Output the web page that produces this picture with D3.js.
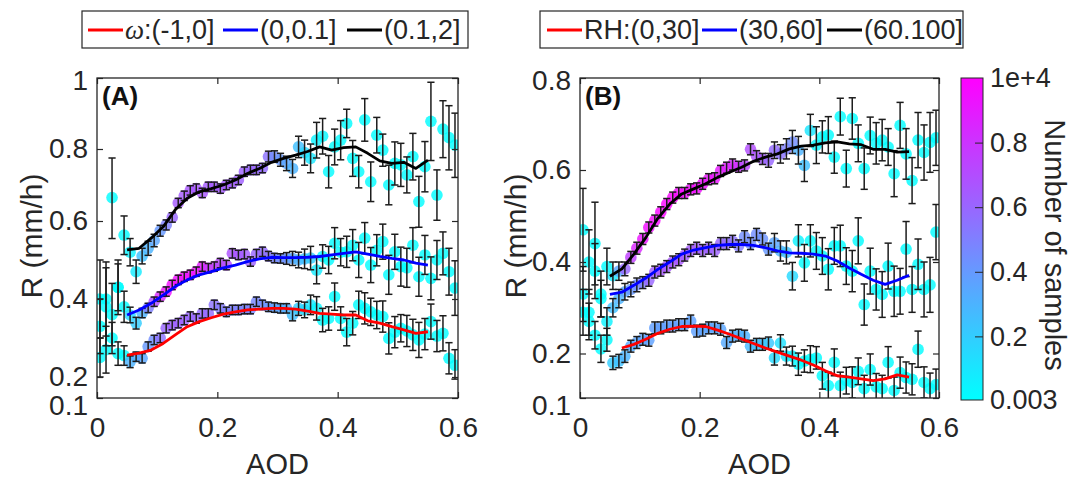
<!DOCTYPE html>
<html>
<head>
<meta charset="utf-8">
<script src="https://cdn.jsdelivr.net/npm/d3@7"></script>
<style>
  body { margin: 0; background: #fff; }
  svg text { font-family: "Liberation Sans", Arial, sans-serif; fill: #262626; }
</style>
</head>
<body>
<svg id="chart" width="1072" height="479"></svg>
<script>
// AOD bin centres shared by every scatter series
const aodBins = [0.005,0.015,0.025,0.035,0.045,0.055,0.065,0.075,0.085,0.095,
  0.105,0.115,0.125,0.135,0.145,0.155,0.165,0.175,0.185,0.195,
  0.205,0.215,0.225,0.235,0.245,0.255,0.265,0.275,0.285,0.295,
  0.305,0.315,0.325,0.335,0.345,0.355,0.365,0.375,0.385,0.395,
  0.405,0.415,0.425,0.435,0.445,0.455,0.465,0.475,0.485,0.495,
  0.505,0.515,0.525,0.535,0.545,0.555,0.565,0.575,0.585,0.595];
// x positions of the smoothed curves
const lineAod = [0.05,0.07,0.09,0.11,0.13,0.15,0.17,0.19,0.21,0.23,0.25,0.27,0.29,
  0.31,0.33,0.35,0.37,0.39,0.41,0.43,0.45,0.47,0.49,0.51,0.53,0.55];

// ---- panel A : omega classes ----
const aBlackR = [0.40,0.38,0.665,0.43,0.564,0.52,0.47,0.51,0.53,0.55,
  0.575,0.59,0.61,0.65,0.67,0.685,0.69,0.678,0.695,0.695,
  0.69,0.70,0.705,0.714,0.737,0.742,0.742,0.747,0.779,0.779,
  0.77,0.76,0.746,0.806,0.79,0.774,0.825,0.836,0.737,0.806,
  0.825,0.872,0.774,0.737,0.882,0.709,0.839,0.797,0.70,0.76,
  0.756,0.728,0.779,0.654,0.751,0.878,0.672,0.856,0.832,0.811];
const aBlackErr = [0.10,0.10,0.11,0.07,0.05,0.035,0.03,0.02,0.018,0.016,
  0.014,0.013,0.013,0.013,0.013,0.013,0.013,0.013,0.013,0.013,
  0.013,0.013,0.013,0.013,0.013,0.013,0.013,0.013,0.015,0.016,
  0.018,0.02,0.025,0.03,0.035,0.04,0.05,0.05,0.045,0.05,
  0.055,0.04,0.05,0.045,0.06,0.055,0.05,0.045,0.055,0.06,
  0.06,0.05,0.065,0.07,0.07,0.11,0.07,0.08,0.09,0.09];
const aBlackN = [0.01,0.01,0.01,0.01,0.02,0.05,0.08,0.25,0.3,0.35,
  0.4,0.5,0.6,0.65,0.65,0.66,0.66,0.66,0.65,0.65,
  0.65,0.64,0.64,0.63,0.62,0.6,0.6,0.58,0.55,0.45,
  0.4,0.35,0.3,0.25,0.15,0.1,0.05,0.03,0.02,0.02,
  0.02,0.01,0.01,0.01,0.01,0.01,0.01,0.01,0.01,0.01,
  0.01,0.01,0.01,0.01,0.01,0.01,0.01,0.01,0.01,0.01];

const aBlueR = [0.33,0.40,0.36,0.43,0.38,0.359,0.338,0.364,0.377,0.393,
  0.406,0.419,0.436,0.449,0.457,0.462,0.47,0.483,0.479,0.483,
  0.492,0.487,0.517,0.513,0.515,0.496,0.515,0.521,0.51,0.505,
  0.504,0.504,0.504,0.50,0.503,0.505,0.474,0.509,0.50,0.543,
  0.52,0.521,0.538,0.50,0.556,0.487,0.525,0.547,0.462,0.521,
  0.483,0.48,0.538,0.457,0.513,0.453,0.50,0.517,0.47,0.428];
const aBlueErr = [0.07,0.095,0.08,0.06,0.04,0.02,0.015,0.012,0.012,0.012,
  0.012,0.012,0.012,0.012,0.012,0.012,0.012,0.012,0.012,0.012,
  0.012,0.012,0.012,0.012,0.012,0.012,0.012,0.012,0.012,0.012,
  0.012,0.015,0.018,0.02,0.025,0.03,0.035,0.03,0.035,0.04,
  0.035,0.04,0.04,0.045,0.04,0.045,0.04,0.045,0.05,0.045,
  0.05,0.05,0.045,0.05,0.05,0.055,0.05,0.055,0.06,0.07];
const aBlueN = [0.01,0.01,0.01,0.01,0.02,0.15,0.2,0.3,0.5,0.7,
  0.85,0.92,0.95,0.95,0.95,0.93,0.92,0.9,0.8,0.75,
  0.72,0.7,0.68,0.66,0.64,0.62,0.6,0.58,0.55,0.48,
  0.45,0.42,0.35,0.3,0.25,0.2,0.08,0.04,0.02,0.02,
  0.01,0.01,0.01,0.01,0.01,0.01,0.01,0.01,0.01,0.01,
  0.01,0.01,0.01,0.01,0.01,0.01,0.01,0.01,0.01,0.01];

const aRedR = [0.25,0.27,0.30,0.26,0.255,0.239,0.252,0.248,0.278,0.295,
  0.30,0.325,0.333,0.338,0.346,0.355,0.35,0.363,0.363,0.385,
  0.376,0.367,0.372,0.372,0.374,0.374,0.393,0.385,0.38,0.378,
  0.376,0.376,0.359,0.376,0.372,0.385,0.376,0.346,0.35,0.406,
  0.35,0.315,0.338,0.385,0.376,0.367,0.359,0.355,0.299,0.315,
  0.325,0.318,0.308,0.295,0.31,0.342,0.305,0.312,0.248,0.23];
const aRedErr = [0.05,0.06,0.04,0.03,0.025,0.015,0.012,0.012,0.012,0.012,
  0.012,0.012,0.012,0.012,0.012,0.012,0.012,0.012,0.012,0.012,
  0.012,0.012,0.012,0.012,0.012,0.012,0.012,0.012,0.012,0.012,
  0.012,0.012,0.015,0.018,0.02,0.025,0.03,0.03,0.03,0.035,
  0.03,0.035,0.03,0.035,0.04,0.035,0.035,0.04,0.04,0.04,
  0.035,0.04,0.04,0.045,0.04,0.045,0.04,0.045,0.04,0.04];
const aRedN = [0.01,0.01,0.01,0.01,0.02,0.3,0.32,0.35,0.4,0.45,
  0.55,0.6,0.62,0.62,0.62,0.6,0.6,0.58,0.58,0.55,
  0.52,0.5,0.5,0.5,0.48,0.48,0.47,0.45,0.4,0.38,
  0.35,0.32,0.25,0.2,0.15,0.1,0.04,0.02,0.02,0.01,
  0.01,0.01,0.01,0.01,0.01,0.01,0.01,0.01,0.01,0.01,
  0.01,0.01,0.01,0.01,0.01,0.01,0.01,0.01,0.01,0.01];

const aBlackLine = [0.526,0.53,0.556,0.585,0.631,0.663,0.681,0.69,0.70,0.714,0.732,0.746,0.763,
  0.774,0.783,0.793,0.806,0.797,0.804,0.806,0.788,0.767,0.76,0.763,0.746,0.769];
const aBlueLine = [0.359,0.372,0.389,0.41,0.432,0.449,0.462,0.47,0.48,0.487,0.496,0.503,0.507,
  0.506,0.506,0.507,0.509,0.513,0.517,0.521,0.515,0.509,0.504,0.50,0.492,0.487];
const aRedLine = [0.256,0.261,0.269,0.286,0.308,0.329,0.342,0.352,0.361,0.367,0.372,0.374,0.376,
  0.376,0.374,0.369,0.363,0.361,0.359,0.359,0.344,0.338,0.329,0.321,0.312,0.316];

// ---- panel B : RH classes ----
const bBlackR = [0.47,0.40,0.44,0.33,0.39,0.37,0.38,0.385,0.41,0.43,
  0.45,0.475,0.49,0.508,0.526,0.54,0.55,0.55,0.558,0.56,
  0.57,0.58,0.582,0.598,0.605,0.612,0.607,0.61,0.645,0.63,
  0.624,0.621,0.643,0.635,0.646,0.661,0.643,0.61,0.686,0.654,
  0.672,0.676,0.628,0.716,0.603,0.712,0.658,0.603,0.675,0.658,
  0.665,0.65,0.592,0.697,0.635,0.577,0.665,0.638,0.66,0.67];
const bBlackErr = [0.09,0.07,0.09,0.05,0.04,0.03,0.02,0.015,0.013,0.013,
  0.012,0.012,0.012,0.012,0.012,0.012,0.012,0.012,0.012,0.012,
  0.012,0.012,0.012,0.012,0.012,0.012,0.012,0.012,0.012,0.012,
  0.012,0.015,0.018,0.02,0.022,0.025,0.03,0.035,0.035,0.04,
  0.035,0.04,0.035,0.04,0.04,0.045,0.04,0.045,0.04,0.045,
  0.045,0.04,0.05,0.05,0.055,0.05,0.06,0.06,0.065,0.06];
const bBlackN = [0.01,0.01,0.01,0.01,0.02,0.1,0.35,0.6,0.75,0.85,
  0.92,0.95,0.97,0.98,0.98,0.98,0.97,0.96,0.95,0.95,
  0.94,0.93,0.92,0.9,0.88,0.85,0.82,0.72,0.7,0.68,
  0.65,0.6,0.58,0.55,0.5,0.45,0.3,0.25,0.1,0.03,
  0.01,0.01,0.01,0.01,0.01,0.01,0.01,0.01,0.01,0.01,
  0.01,0.01,0.01,0.01,0.01,0.01,0.01,0.01,0.01,0.01];

const bBlueR = [0.33,0.29,0.38,0.32,0.27,0.30,0.32,0.335,0.34,0.35,
  0.355,0.36,0.378,0.382,0.39,0.40,0.405,0.415,0.425,0.43,
  0.425,0.43,0.425,0.44,0.44,0.445,0.435,0.455,0.44,0.46,
  0.45,0.428,0.442,0.424,0.421,0.369,0.446,0.398,0.446,0.424,
  0.413,0.384,0.435,0.435,0.391,0.38,0.446,0.307,0.38,0.34,
  0.329,0.391,0.336,0.336,0.428,0.34,0.395,0.34,0.35,0.465];
const bBlueErr = [0.06,0.05,0.06,0.04,0.03,0.02,0.02,0.018,0.016,0.015,
  0.013,0.013,0.013,0.013,0.013,0.013,0.013,0.013,0.013,0.013,
  0.013,0.013,0.013,0.013,0.013,0.013,0.013,0.013,0.013,0.013,
  0.013,0.013,0.02,0.022,0.025,0.03,0.035,0.04,0.035,0.04,
  0.04,0.045,0.04,0.045,0.04,0.045,0.05,0.045,0.05,0.045,
  0.05,0.05,0.055,0.05,0.06,0.05,0.055,0.06,0.06,0.06];
const bBlueN = [0.01,0.01,0.01,0.01,0.05,0.25,0.3,0.35,0.4,0.45,
  0.5,0.6,0.65,0.66,0.66,0.66,0.66,0.65,0.65,0.64,
  0.63,0.62,0.62,0.6,0.58,0.55,0.52,0.45,0.45,0.45,
  0.42,0.4,0.35,0.3,0.25,0.15,0.05,0.02,0.01,0.01,
  0.01,0.01,0.01,0.01,0.01,0.01,0.01,0.01,0.01,0.01,
  0.01,0.01,0.01,0.01,0.01,0.01,0.01,0.01,0.01,0.01];

const bRedR = [0.29,0.27,0.24,0.21,0.23,0.179,0.183,0.194,0.216,0.224,
  0.231,0.229,0.256,0.256,0.26,0.26,0.263,0.263,0.271,0.249,
  0.251,0.256,0.256,0.253,0.224,0.238,0.24,0.238,0.216,0.22,
  0.22,0.223,0.19,0.223,0.194,0.194,0.176,0.183,0.187,0.19,
  0.15,0.128,0.18,0.128,0.139,0.135,0.16,0.121,0.164,0.125,
  0.121,0.18,0.117,0.157,0.146,0.142,0.209,0.135,0.121,0.13];
const bRedErr = [0.05,0.04,0.03,0.03,0.025,0.015,0.015,0.014,0.013,0.013,
  0.013,0.013,0.013,0.013,0.013,0.013,0.013,0.013,0.013,0.013,
  0.013,0.013,0.013,0.013,0.013,0.013,0.013,0.013,0.013,0.013,
  0.013,0.013,0.016,0.018,0.02,0.022,0.025,0.025,0.03,0.025,
  0.03,0.03,0.03,0.03,0.03,0.035,0.03,0.03,0.035,0.03,
  0.03,0.035,0.03,0.035,0.035,0.035,0.04,0.035,0.035,0.035];
const bRedN = [0.01,0.01,0.01,0.01,0.02,0.2,0.25,0.3,0.33,0.35,
  0.36,0.37,0.38,0.38,0.38,0.38,0.38,0.38,0.37,0.37,
  0.36,0.36,0.35,0.35,0.34,0.33,0.32,0.3,0.28,0.26,
  0.25,0.22,0.15,0.12,0.1,0.05,0.02,0.01,0.01,0.01,
  0.01,0.01,0.01,0.01,0.01,0.01,0.01,0.01,0.01,0.01,
  0.01,0.01,0.01,0.01,0.01,0.01,0.01,0.01,0.01,0.01];

const bBlackLine = [0.369,0.385,0.417,0.453,0.495,0.526,0.548,0.559,0.57,0.584,0.595,0.606,0.619,
  0.628,0.635,0.646,0.652,0.654,0.659,0.661,0.657,0.655,0.645,0.645,0.639,0.64];
const bBlueLine = [0.329,0.334,0.349,0.365,0.384,0.40,0.417,0.426,0.431,0.436,0.438,0.438,0.436,
  0.431,0.424,0.42,0.419,0.417,0.413,0.402,0.387,0.373,0.36,0.351,0.36,0.371];
const bRedLine = [null,0.212,0.22,0.231,0.244,0.253,0.259,0.26,0.259,0.251,0.242,0.232,0.222,
  0.212,0.203,0.194,0.185,0.174,0.161,0.15,0.147,0.143,0.139,0.143,0.152,0.147];

// ticks and legend text
const xTicks = [0, 0.2, 0.4, 0.6];
const aYTicks = [0.1, 0.2, 0.4, 0.6, 0.8, 1];
const bYTicks = [0.1, 0.2, 0.4, 0.6, 0.8];
const cbTicks = [0.003, 0.2, 0.4, 0.6, 0.8, 1];
const cbTickLabels = ["0.003", "0.2", "0.4", "0.6", "0.8", "1e+4"];
const legendA = [["ω", ":(-1,0]"], ["", "(0,0.1]"], ["", "(0.1,2]"]];
const legendB = [["", "RH:(0,30]"], ["", "(30,60]"], ["", "(60.100]"]];
const lineColors = ["#ff0000", "#0000ff", "#000000"];

const svg = d3.select("#chart");
const cool = d3.scaleLinear().domain([0.003, 1]).range(["#00ffff", "#ff00ff"]);
const fmt = d => (d === 1 ? "1" : d === 0 ? "0" : String(d));

function drawPanel(p) {
  const x = d3.scaleLinear().domain([0, 0.6]).range([p.left, p.right]);
  const y = d3.scaleLinear().domain(p.yTicks).range(p.yPix);
  const g = svg.append("g");

  g.append("clipPath").attr("id", p.id + "clip")
    .append("rect").attr("x", p.left).attr("y", p.top)
    .attr("width", p.right - p.left).attr("height", p.bottom - p.top);
  const plot = g.append("g").attr("clip-path", `url(#${p.id}clip)`);

  p.series.forEach(s => {
    const pts = aodBins.map((a, i) => ({ a, r: s.r[i], n: s.n[i] }));
    plot.append("g").selectAll("circle").data(pts).join("circle")
      .attr("cx", d => x(d.a)).attr("cy", d => y(d.r)).attr("r", 5.8)
      .attr("fill", d => cool(d.n)).attr("fill-opacity", 0.82);
  });
  p.series.forEach(s => {
    const pts = aodBins.map((a, i) => ({ a, r: s.r[i], e: s.err[i] }));
    const eb = plot.append("g").attr("stroke", "#1c1c1c").attr("stroke-width", 1.5);
    eb.selectAll(".v").data(pts).join("line")
      .attr("x1", d => x(d.a)).attr("x2", d => x(d.a))
      .attr("y1", d => y(d.r - d.e)).attr("y2", d => y(d.r + d.e));
    eb.selectAll(".t").data(pts).join("line")
      .attr("x1", d => x(d.a) - 3.6).attr("x2", d => x(d.a) + 3.6)
      .attr("y1", d => y(d.r + d.e)).attr("y2", d => y(d.r + d.e));
    eb.selectAll(".b").data(pts).join("line")
      .attr("x1", d => x(d.a) - 3.6).attr("x2", d => x(d.a) + 3.6)
      .attr("y1", d => y(d.r - d.e)).attr("y2", d => y(d.r - d.e));
  });
  const line = d3.line().defined(d => d[1] != null).x(d => x(d[0])).y(d => y(d[1]));
  p.series.forEach((s, k) => {
    plot.append("path").datum(lineAod.map((a, i) => [a, s.line[i]]))
      .attr("d", line).attr("fill", "none")
      .attr("stroke", lineColors[k]).attr("stroke-width", 2.8)
      .attr("stroke-linejoin", "round");
  });

  // axes (ticks pointing inward, box on)
  const axes = [
    d3.axisBottom(x).tickValues(xTicks).tickFormat(fmt).tickSize(-6).tickPadding(19),
    d3.axisTop(x).tickValues(xTicks).tickFormat("").tickSize(-6),
    d3.axisLeft(y).tickValues(p.yTicks).tickFormat(fmt).tickSize(-6).tickPadding(9),
    d3.axisRight(y).tickValues(p.yTicks).tickFormat("").tickSize(-6)
  ];
  const pos = [`translate(0,${p.bottom})`, `translate(0,${p.top})`,
    `translate(${p.left},0)`, `translate(${p.right},0)`];
  axes.forEach((ax, i) => {
    const a = g.append("g").attr("transform", pos[i]).call(ax);
    a.select(".domain").remove();
    a.selectAll("line").attr("stroke", "#262626").attr("stroke-width", 1.2);
    a.selectAll("text").attr("font-size", 28).attr("fill", "#262626");
    if (i === 2) {
      // end labels sit a little below their ticks in the original
      a.selectAll("text").attr("y", d => (d === 0.1 ? 8 : d === p.yTicks[p.yTicks.length - 1] ? 3 : 0));
    }
  });
  g.append("rect").attr("x", p.left).attr("y", p.top)
    .attr("width", p.right - p.left).attr("height", p.bottom - p.top)
    .attr("fill", "none").attr("stroke", "#262626").attr("stroke-width", 1.3);

  g.append("text").attr("x", (p.left + p.right) / 2).attr("y", 474)
    .attr("text-anchor", "middle").attr("font-size", 29).text("AOD");
  g.append("text").attr("transform", `translate(${p.ylabX},236) rotate(-90)`)
    .attr("text-anchor", "middle").attr("font-size", 30).text("R (mm/h)");
  g.append("text").attr("x", p.left + 5).attr("y", 105)
    .attr("font-family", "Liberation Serif, Times New Roman, serif")
    .attr("font-weight", "bold").attr("font-size", 26).style("fill", "#111")
    .text(p.tag);

  // legend
  const lg = svg.append("g");
  lg.append("rect").attr("x", p.legBox[0]).attr("y", 11)
    .attr("width", p.legBox[1] - p.legBox[0]).attr("height", 37)
    .attr("fill", "#fff").attr("stroke", "#262626").attr("stroke-width", 1.2);
  p.legend.forEach((lab, k) => {
    const lx = p.legLines[k];
    lg.append("line").attr("x1", lx).attr("x2", lx + 35).attr("y1", 30).attr("y2", 30)
      .attr("stroke", lineColors[k]).attr("stroke-width", 2.8);
    const t = lg.append("text").attr("x", lx + 37).attr("y", 39).attr("font-size", 27);
    if (lab[0]) t.append("tspan").attr("font-family", "Liberation Serif, serif")
      .attr("font-style", "italic").text(lab[0]);
    t.append("tspan").text(lab[1]);
  });
}

drawPanel({
  id: "A", tag: "(A)", left: 97, right: 458, top: 78, bottom: 398,
  yTicks: aYTicks, yPix: [398, 377, 299, 221, 149, 78], ylabX: 42,
  legBox: [82, 468], legLines: [88, 223, 347], legend: legendA,
  series: [
    { r: aRedR, err: aRedErr, n: aRedN, line: aRedLine },
    { r: aBlueR, err: aBlueErr, n: aBlueN, line: aBlueLine },
    { r: aBlackR, err: aBlackErr, n: aBlackN, line: aBlackLine }
  ]
});
drawPanel({
  id: "B", tag: "(B)", left: 580, right: 939, top: 78, bottom: 398,
  yTicks: bYTicks, yPix: [398, 353.5, 262, 170, 78], ylabX: 526,
  legBox: [540, 963], legLines: [547, 702, 827], legend: legendB,
  series: [
    { r: bRedR, err: bRedErr, n: bRedN, line: bRedLine },
    { r: bBlueR, err: bBlueErr, n: bBlueN, line: bBlueLine },
    { r: bBlackR, err: bBlackErr, n: bBlackN, line: bBlackLine }
  ]
});

// colour bar
const cbX = 961, cbW = 22;
const cbY = d3.scaleLinear().domain([0.003, 1]).range([400, 78]);
const grad = svg.append("defs").append("linearGradient").attr("id", "cbgrad")
  .attr("x1", 0).attr("y1", 1).attr("x2", 0).attr("y2", 0);
grad.selectAll("stop").data([0.003, 1]).join("stop")
  .attr("offset", (d, i) => i).attr("stop-color", d => cool(d));
svg.append("rect").attr("x", cbX).attr("y", 78).attr("width", cbW).attr("height", 322)
  .attr("fill", "url(#cbgrad)").attr("stroke", "#262626").attr("stroke-width", 1);
const cbAxis = svg.append("g").attr("transform", `translate(${cbX + cbW},0)`)
  .call(d3.axisRight(cbY).tickValues(cbTicks).tickSize(-8).tickPadding(7)
    .tickFormat((d, i) => cbTickLabels[i]));
cbAxis.select(".domain").remove();
cbAxis.selectAll("line").attr("stroke", "#262626")
  .attr("opacity", d => (d === 0.003 || d === 1 ? 0 : 1));
cbAxis.selectAll("text").attr("font-size", 27).attr("fill", "#262626");
svg.append("text").attr("transform", "translate(1045,245) rotate(90)")
  .attr("text-anchor", "middle").attr("font-size", 29).text("Number of samples");
</script>
</body>
</html>
